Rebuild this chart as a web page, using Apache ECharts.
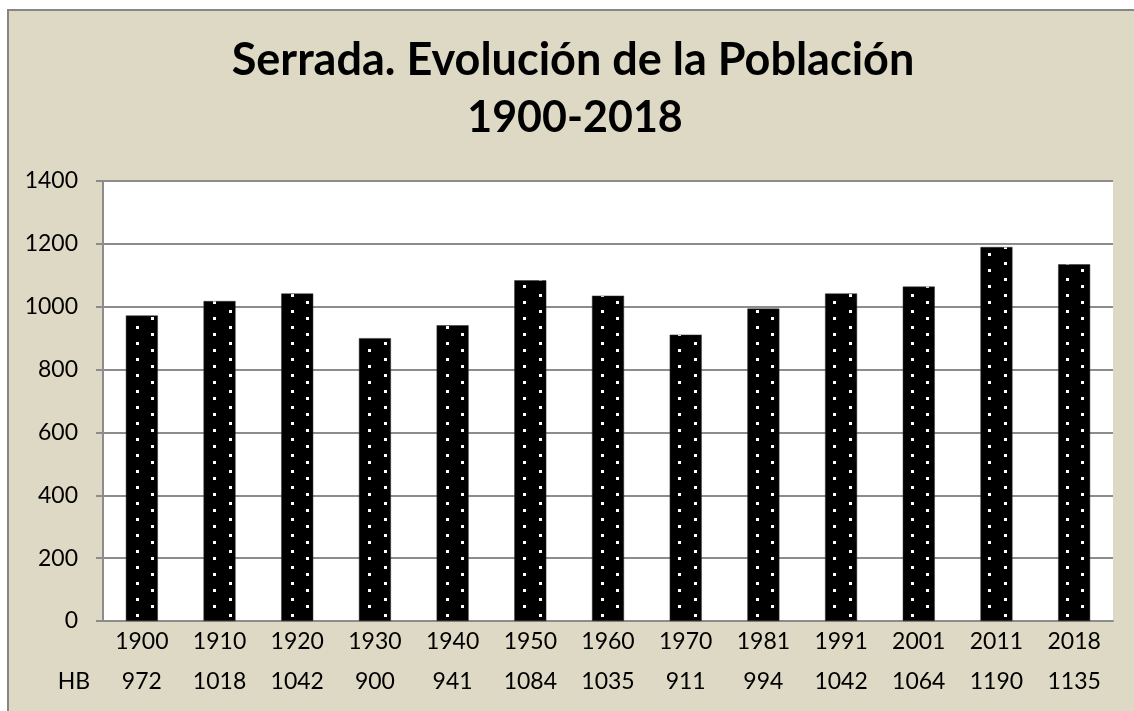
<!DOCTYPE html>
<html>
<head>
<meta charset="utf-8">
<script src="https://cdn.jsdelivr.net/npm/echarts@6/dist/echarts.min.js"></script>
<style>
  html, body { margin: 0; padding: 0; background: #ffffff; }
  #chart { width: 1134px; height: 711px; }
</style>
</head>
<body>
<div id="chart"></div>
<script>
// Census years and inhabitants (HB) of Serrada
const years = ['1900', '1910', '1920', '1930', '1940', '1950', '1960', '1970', '1981', '1991', '2001', '2011', '2018'];
const inhabitants = [972, 1018, 1042, 900, 941, 1084, 1035, 911, 994, 1042, 1064, 1190, 1135];
const yTicks = [0, 200, 400, 600, 800, 1000, 1200, 1400];
const rowLabel = 'HB';
const titleLines = ['Serrada. Evolución de la Población', '1900-2018'];

const FONT = 'Lato, "Open Sans", sans-serif';
const LABEL_SIZE = 23;
const BG = '#ddd9c4';
const GRID = '#8c8c8c';

// Black fill with small white dots in a staggered repeat
function dotPattern() {
  const c = document.createElement('canvas');
  c.width = 31; c.height = 16;
  const g = c.getContext('2d');
  g.fillStyle = '#000000';
  g.fillRect(0, 0, 31, 16);
  g.fillStyle = '#ffffff';
  g.fillRect(12, 6, 3, 3);
  g.fillRect(27, 13, 3, 3);
  return c;
}

const chart = echarts.init(document.getElementById('chart'), null, { renderer: 'canvas' });

chart.setOption({
  animation: false,
  backgroundColor: '#ffffff',
  graphic: [
    {
      type: 'rect', z: -10, silent: true,
      shape: { x: 8, y: 10, width: 1200, height: 800 },
      style: { fill: BG, stroke: '#868686', lineWidth: 2 }
    },
    {
      type: 'text', x: 573, y: 60, silent: true,
      style: { text: titleLines[0], font: 'bold 45px ' + FONT, fill: '#000000', align: 'center', verticalAlign: 'middle' }
    },
    {
      type: 'text', x: 575, y: 118, silent: true,
      style: { text: titleLines[1], font: 'bold 43px ' + FONT, fill: '#000000', align: 'center', verticalAlign: 'middle' }
    },
    {
      type: 'text', x: 74, y: 682, silent: true,
      style: { text: rowLabel, font: LABEL_SIZE + 'px ' + FONT, fill: '#000000', align: 'center', verticalAlign: 'middle' }
    }
  ],
  grid: { left: 103, right: 21, top: 181, bottom: 90, containLabel: false, show: true, backgroundColor: '#ffffff', borderWidth: 0 },
  xAxis: [
    {
      type: 'category',
      data: years,
      axisLine: { show: true, lineStyle: { color: GRID, width: 2 } },
      axisTick: { show: false },
      axisLabel: { color: '#000000', fontFamily: FONT, fontSize: LABEL_SIZE, margin: 9 }
    },
    {
      type: 'category',
      position: 'bottom',
      offset: 40,
      data: inhabitants.map(String),
      axisLine: { show: false },
      axisTick: { show: false },
      axisLabel: { color: '#000000', fontFamily: FONT, fontSize: LABEL_SIZE, margin: 9 }
    }
  ],
  yAxis: {
    type: 'value',
    min: yTicks[0],
    max: yTicks[yTicks.length - 1],
    interval: 200,
    axisLine: { show: true, lineStyle: { color: GRID, width: 2 } },
    axisTick: { show: true, length: 7, lineStyle: { color: GRID, width: 2 } },
    axisLabel: { color: '#000000', fontFamily: FONT, fontSize: LABEL_SIZE, margin: 25, formatter: v => String(v) },
    splitLine: { show: true, lineStyle: { color: GRID, width: 2 } }
  },
  series: [
    {
      type: 'bar',
      xAxisIndex: 0,
      data: inhabitants,
      barWidth: 32,
      itemStyle: {
        color: { image: dotPattern(), repeat: 'repeat' },
        borderColor: '#333333',
        borderWidth: 0.5
      }
    }
  ]
});
</script>
</body>
</html>
